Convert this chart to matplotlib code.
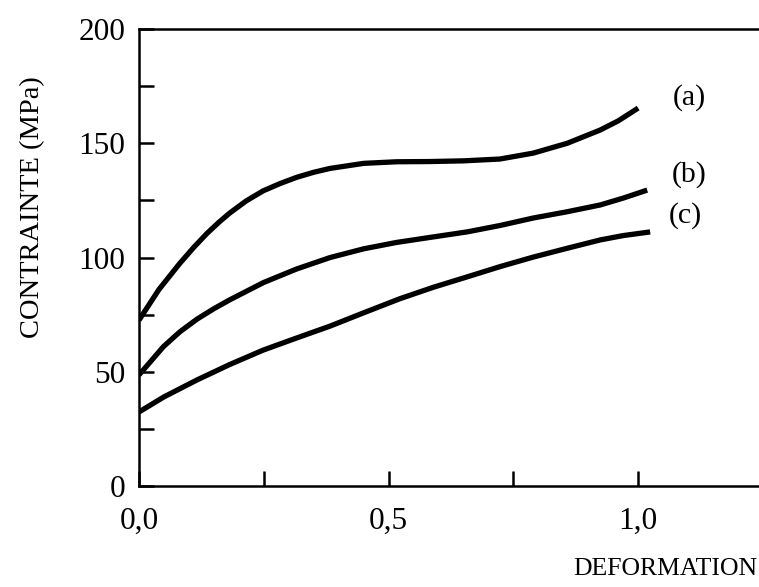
import matplotlib
matplotlib.use('Agg')
import matplotlib.pyplot as plt

# Courbes contrainte - deformation
def_a = [0, 0.04, 0.082, 0.11, 0.136, 0.16, 0.182, 0.215, 0.249, 0.283, 0.316, 0.35,
         0.383, 0.45, 0.516, 0.583, 0.65, 0.723, 0.79, 0.858, 0.924, 0.96, 1.0]
con_a = [72.6, 86, 97.5, 104.5, 110.5, 115.4, 119.5, 124.8, 129.2, 132.4, 135.1, 137.3,
         139.0, 141.2, 141.9, 142.0, 142.3, 143.1, 145.7, 150, 155.8, 159.8, 165.4]

def_b = [0, 0.049, 0.082, 0.116, 0.15, 0.182, 0.249, 0.316, 0.383, 0.45, 0.516, 0.583,
         0.657, 0.723, 0.79, 0.857, 0.924, 0.97, 1.018]
con_b = [48.6, 61, 67.5, 73, 77.6, 81.5, 89, 95, 100, 103.8, 106.6, 108.8,
         111.2, 114, 117.3, 120, 123, 126, 129.5]

def_c = [0, 0.05, 0.116, 0.182, 0.249, 0.316, 0.383, 0.45, 0.523, 0.59, 0.657, 0.723,
         0.79, 0.857, 0.924, 0.97, 1.024]
con_c = [32.4, 39, 46.4, 53.2, 59.5, 64.8, 70, 75.8, 82, 87, 91.5, 96,
         100.2, 104, 107.7, 109.6, 111.2]

etiquettes = ['(a)', '(b)', '(c)']
pos_etiquettes = [(1.102, 169.8), (1.102, 136.5), (1.094, 118.5)]

x_ticks = [0, 0.25, 0.5, 0.75, 1.0]
x_labels = ['0,0', '', '0,5', '', '1,0']
y_ticks = [0, 25, 50, 75, 100, 125, 150, 175, 200]
y_labels = ['0', '', '50', '', '100', '', '150', '', '200']

plt.rcParams['font.family'] = ['Liberation Serif', 'DejaVu Serif']

fig = plt.figure(figsize=(7.59, 5.87), dpi=100)
ax = fig.add_axes([0.1831, 0.172, 0.8169, 0.7786])

ax.plot(def_a, con_a, color='black', lw=3.8, solid_capstyle='butt')
ax.plot(def_b, con_b, color='black', lw=3.8, solid_capstyle='butt')
ax.plot(def_c, con_c, color='black', lw=3.8, solid_capstyle='butt')

for txt, (x, y) in zip(etiquettes, pos_etiquettes):
    ax.text(x, y, txt, fontsize=21.5, ha='center', va='center')

ax.set_xlim(0, 1.242)
ax.set_ylim(0, 200)
ax.set_xticks(x_ticks)
ax.set_xticklabels(x_labels)
ax.set_yticks(y_ticks)
ax.set_yticklabels(y_labels)
ax.tick_params(direction='in', length=11, width=1.8, labelsize=22.5)
ax.tick_params(axis='y', pad=10)
ax.tick_params(axis='x', pad=15)

ax.spines['right'].set_visible(False)
for s in ['left', 'top', 'bottom']:
    ax.spines[s].set_linewidth(1.8)

ax.set_ylabel('CONTRAINTE (MPa)', fontsize=20.5)
ax.yaxis.set_label_coords(-0.152, 0.61)
fig.text(0.9974, 0.03, 'DEFORMATION', fontsize=18.5, ha='right', va='center')

fig.savefig('out.png', dpi=100)
